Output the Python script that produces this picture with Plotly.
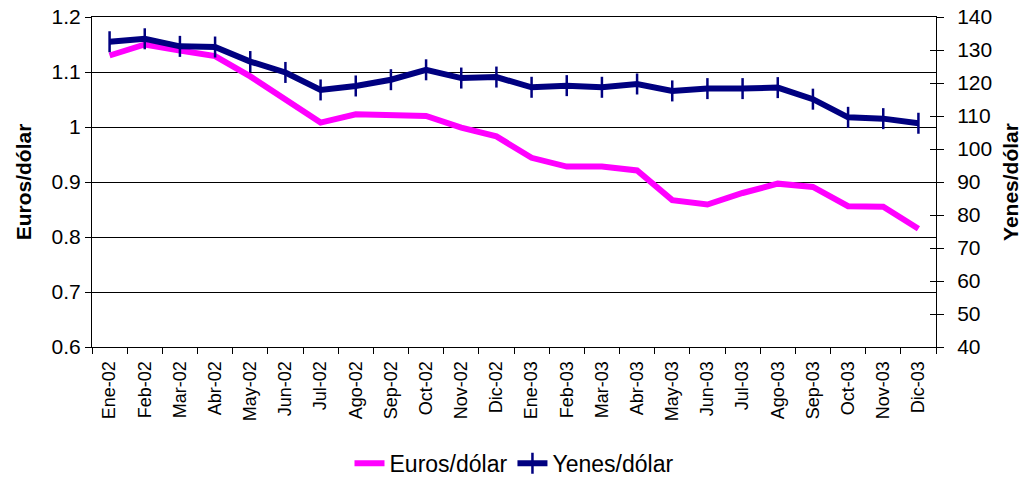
import plotly.graph_objects as go

meses = ["Ene-02", "Feb-02", "Mar-02", "Abr-02", "May-02", "Jun-02", "Jul-02", "Ago-02",
         "Sep-02", "Oct-02", "Nov-02", "Dic-02", "Ene-03", "Feb-03", "Mar-03", "Abr-03",
         "May-03", "Jun-03", "Jul-03", "Ago-03", "Sep-03", "Oct-03", "Nov-03", "Dic-03"]

euros_dolar = [1.130, 1.150, 1.139, 1.129, 1.092, 1.050, 1.008, 1.023, 1.021, 1.020, 0.999, 0.983,
               0.944, 0.928, 0.928, 0.921, 0.867, 0.859, 0.880, 0.897, 0.891, 0.856, 0.855, 0.815]

yenes_dolar = [132.5, 133.4, 131.1, 130.9, 126.5, 123.2, 117.9, 119.1, 121.0, 124.0, 121.5, 121.8,
               118.7, 119.2, 118.7, 119.7, 117.6, 118.3, 118.3, 118.6, 115.1, 109.6, 109.2, 107.8]

left_ticks = [0.6, 0.7, 0.8, 0.9, 1.0, 1.1, 1.2]
left_labels = ["0.6", "0.7", "0.8", "0.9", "1", "1.1", "1.2"]
right_ticks = [40, 50, 60, 70, 80, 90, 100, 110, 120, 130, 140]

FONT = "Arial, Liberation Sans, sans-serif"

fig = go.Figure()
fig.add_trace(go.Scatter(
    x=meses, y=euros_dolar, name="Euros/dólar", mode="lines",
    line=dict(color="#FF00FF", width=6), yaxis="y"))
fig.add_trace(go.Scatter(
    x=meses, y=yenes_dolar, name="Yenes/dólar", mode="lines+markers",
    line=dict(color="#000080", width=6),
    marker=dict(symbol="line-ns", size=15, line=dict(color="#000080", width=2.5)),
    yaxis="y2"))
fig.add_trace(go.Scatter(x=[meses[0]], y=[None], yaxis="y3", showlegend=False, hoverinfo="skip"))

fig.update_layout(
    width=1033, height=478,
    margin=dict(l=92, r=97, t=17, b=131),
    paper_bgcolor="white", plot_bgcolor="white",
    font=dict(family=FONT, color="black", size=20),
    showlegend=True,
    legend=dict(orientation="h", x=0.5, xanchor="center", yref="container", y=0.031,
                yanchor="middle", font=dict(size=23, color="black"), tracegroupgap=0),
    xaxis=dict(
        type="category", showgrid=False, showline=True, linecolor="black", linewidth=1,
        mirror=True, automargin=False,
        ticks="outside", tickson="boundaries", ticklen=6, tickcolor="black",
        ticklabelstandoff=6,
        tickangle=-90, tickfont=dict(size=18), range=[-0.5, 23.5]),
    yaxis=dict(
        range=[0.6, 1.2], tickvals=left_ticks, ticktext=left_labels, automargin=False,
        showgrid=True, gridcolor="black", gridwidth=1, zeroline=False,
        showline=True, linecolor="black", linewidth=1,
        ticks="outside", ticklen=6, tickcolor="black", tickfont=dict(size=21),
        title=dict(text="<b>Euros/dólar</b>", font=dict(size=21), standoff=14)),
    yaxis2=dict(
        range=[40, 140], tickvals=right_ticks, overlaying="y", side="right", automargin=False,
        showgrid=False, zeroline=False, showline=True, linecolor="black", linewidth=1,
        ticks="outside", ticklen=7, tickcolor="black", tickfont=dict(size=21),
        ticklabelstandoff=9,
        title=dict(text="<b>Yenes/dólar</b>", font=dict(size=21), standoff=12)),
    yaxis3=dict(
        range=[40, 140], tickvals=right_ticks, overlaying="y", side="right", automargin=False,
        showgrid=False, zeroline=False, showline=False, showticklabels=False,
        ticks="inside", ticklen=6, tickcolor="black"),
)

fig.write_html("out.html", config={"displayModeBar": False},
               post_script="document.body.style.margin='0';")
